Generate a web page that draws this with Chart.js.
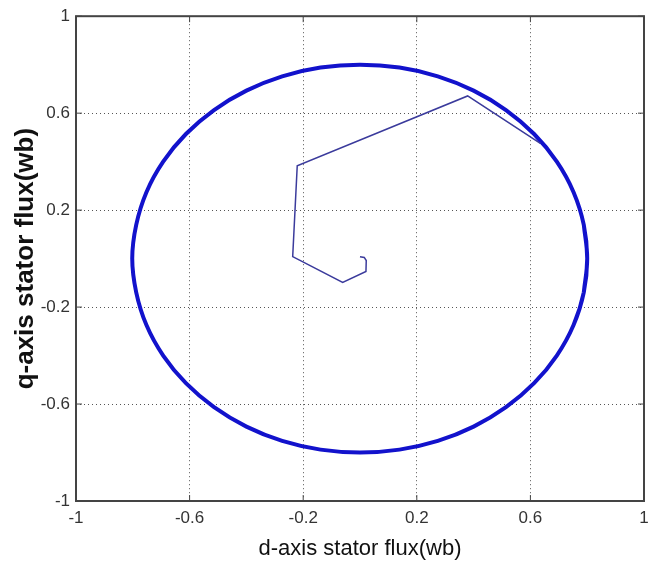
<!DOCTYPE html>
<html>
<head>
<meta charset="utf-8">
<script src="https://cdn.jsdelivr.net/npm/chart.js@4.4.1/dist/chart.umd.min.js"></script>
<style>
  html, body { margin: 0; padding: 0; background: #fff; }
  #wrap { width: 656px; height: 566px; }
</style>
</head>
<body>
<div id="wrap"><canvas id="fluxChart" width="656" height="566"></canvas></div>
<script>
// steady-state stator flux locus (d, q); the first and last points overlap so the loop closes smoothly
const circleD = [0.788, 0.800, 0.788, 0.752, 0.693, 0.613, 0.514, 0.400, 0.274, 0.139, 0.000,
  -0.139, -0.274, -0.400, -0.514, -0.613, -0.693, -0.752, -0.788, -0.802,
  -0.788, -0.752, -0.693, -0.613, -0.514, -0.400, -0.274, -0.139, 0.000,
  0.139, 0.274, 0.400, 0.514, 0.613, 0.693, 0.752, 0.788, 0.800, 0.788];
const circleQ = [-0.139, 0.000, 0.139, 0.274, 0.400, 0.514, 0.613, 0.693, 0.752, 0.788, 0.800,
  0.788, 0.752, 0.693, 0.613, 0.514, 0.400, 0.274, 0.139, 0.000,
  -0.139, -0.274, -0.400, -0.514, -0.613, -0.693, -0.752, -0.788, -0.800,
  -0.788, -0.752, -0.693, -0.613, -0.514, -0.400, -0.274, -0.139, 0.000, 0.139];

// start-up transient of the flux vector
const startD = [0.000, 0.015, 0.022, 0.021, -0.061, -0.237, -0.221, 0.379, 0.635];
const startQ = [0.008, 0.005, -0.008, -0.053, -0.098, 0.008, 0.383, 0.671, 0.475];

const tickVals = [-1, -0.6, -0.2, 0.2, 0.6, 1];

const toPoints = (xs, ys) => xs.map((x, i) => ({ x: x, y: ys[i] }));

Chart.defaults.font.family = "'Liberation Sans Narrow', 'Liberation Sans', Arial, sans-serif";
Chart.defaults.color = "#333";

// box around the plot with inward ticks on all four sides
const frame = {
  id: "frame",
  afterDatasetsDraw(chart) {
    const { ctx, chartArea: a, scales } = chart;
    const len = 6;
    ctx.save();
    ctx.strokeStyle = "#444";
    ctx.lineWidth = 1;
    ctx.beginPath();
    tickVals.forEach((v) => {
      const px = scales.x.getPixelForValue(v);
      const py = scales.y.getPixelForValue(v);
      ctx.moveTo(px, a.bottom); ctx.lineTo(px, a.bottom - len);
      ctx.moveTo(px, a.top); ctx.lineTo(px, a.top + len);
      ctx.moveTo(a.left, py); ctx.lineTo(a.left + len, py);
      ctx.moveTo(a.right, py); ctx.lineTo(a.right - len, py);
    });
    ctx.stroke();
    ctx.lineWidth = 2;
    ctx.strokeRect(a.left, a.top, a.right - a.left, a.bottom - a.top);
    ctx.restore();
  },
};

const ctx = document.getElementById("fluxChart").getContext("2d");
const fluxChart = new Chart(ctx, {
  type: "scatter",
  data: {
    datasets: [
      {
        data: toPoints(startD, startQ),
        showLine: true,
        borderColor: "#3b3b9c",
        borderWidth: 1.5,
        pointRadius: 0,
        tension: 0,
      },
      {
        data: toPoints(circleD, circleQ),
        showLine: true,
        borderColor: "#1212cc",
        borderWidth: 4,
        pointRadius: 0,
        tension: 0.4,
      },
    ],
  },
  options: {
    responsive: false,
    animation: false,
    layout: { padding: { top: 15, right: 12, left: 0, bottom: 0 } },
    plugins: {
      legend: { display: false },
      tooltip: { enabled: false },
    },
    scales: {
      x: {
        type: "linear",
        min: -1,
        max: 1,
        afterBuildTicks: (s) => { s.ticks = tickVals.map((v) => ({ value: v })); },
        afterFit: (s) => { s.height = 65; },
        ticks: {
          autoSkip: false,
          maxRotation: 0,
          padding: 7,
          font: { size: 17 },
          callback: (v) => String(v),
        },
        grid: { color: "#555", lineWidth: 1, drawTicks: false },
        border: { display: false, dash: [1, 3] },
        title: {
          display: true,
          text: "d-axis stator flux(wb)",
          color: "#111",
          font: { family: "'Liberation Sans', Arial, sans-serif", size: 22 },
          padding: { top: 0, bottom: 4 },
        },
      },
      y: {
        type: "linear",
        min: -1,
        max: 1,
        afterBuildTicks: (s) => { s.ticks = tickVals.map((v) => ({ value: v })); },
        afterFit: (s) => { s.width = 76; },
        ticks: {
          autoSkip: false,
          padding: 6,
          font: { size: 17 },
          callback: (v) => String(v),
        },
        grid: { color: "#555", lineWidth: 1, drawTicks: false },
        border: { display: false, dash: [1, 3] },
        title: {
          display: true,
          text: "q-axis stator flux(wb)",
          color: "#111",
          font: { family: "'Liberation Sans', Arial, sans-serif", size: 26, weight: "bold", lineHeight: 1 },
          padding: { top: 13, bottom: 0 },
        },
      },
    },
  },
  plugins: [frame],
});
</script>
</body>
</html>
